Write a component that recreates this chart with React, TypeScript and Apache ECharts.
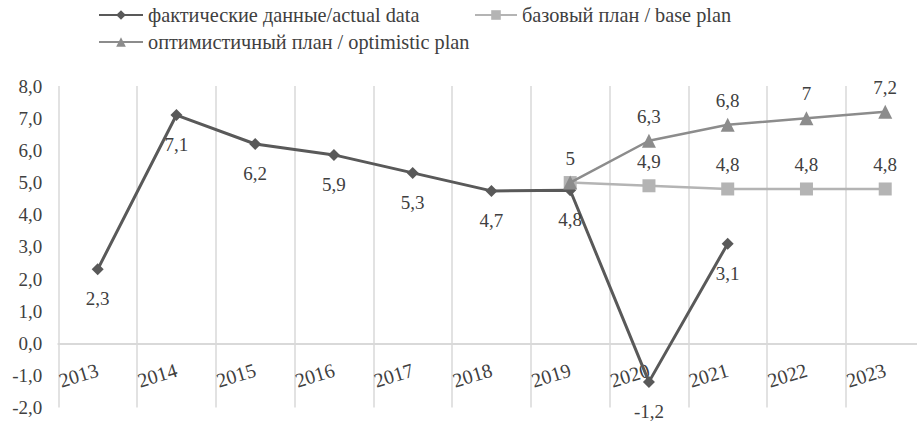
import React, { useEffect, useRef } from "react";
import * as echarts from "echarts";

const years = ["2013", "2014", "2015", "2016", "2017", "2018", "2019", "2020", "2021", "2022", "2023"];
const actualData = [2.3, 7.1, 6.2, 5.86, 5.3, 4.74, 4.76, -1.2, 3.1, null, null];
const basePlan = [null, null, null, null, null, null, 5, 4.9, 4.8, 4.8, 4.8];
const optimisticPlan = [null, null, null, null, null, null, 5, 6.3, 6.8, 7, 7.2];

const actualName = "фактические данные/actual data";
const baseName = "базовый план / base plan";
const optName = "оптимистичный план / optimistic plan";

const FONT = "Liberation Serif";
const TEXT = "#404040";
const FS = 19;
const LFS = 20.3;

const fmtVal = (v: number) => String(Math.round(v * 10) / 10).replace(".", ",");

export default function App() {
  const ref = useRef<HTMLDivElement>(null);
  useEffect(() => {
    if (!ref.current) return;
    const chart = echarts.init(ref.current, undefined, { renderer: "svg" });
    const legendText = { fontFamily: FONT, fontSize: LFS, color: TEXT };
    const legendBase = { itemHeight: 12, itemGap: 0, padding: 0, textStyle: legendText, selectedMode: false };
    chart.setOption({
      animation: false,
      textStyle: { fontFamily: FONT, color: TEXT },
      legend: [
        { ...legendBase, data: [actualName], left: 98, top: 5, itemWidth: 44 },
        { ...legendBase, data: [baseName], left: 474, top: 5, itemWidth: 42 },
        { ...legendBase, data: [optName], left: 98, top: 32, itemWidth: 44 },
      ],
      grid: [
        { left: 58.3, right: 35.4, top: 86.1, bottom: 14.4, containLabel: false, outerBoundsMode: "none" },
        { left: 58.3, right: 35.4, top: 86.1, bottom: 422 - 343.3, containLabel: false, outerBoundsMode: "none" },
      ],
      xAxis: [
        {
          type: "category",
          gridIndex: 0,
          data: years,
          boundaryGap: true,
          axisLine: { show: true, onZero: true, lineStyle: { color: "#d9d9d9", width: 2 } },
          axisTick: { show: false },
          splitLine: { show: true, interval: 0, lineStyle: { color: "#d9d9d9", width: 1.5 } },
          axisLabel: { show: false },
        },
        {
          type: "category",
          gridIndex: 1,
          data: years,
          boundaryGap: true,
          axisLine: { show: false },
          axisTick: { show: false },
          splitLine: { show: false },
          axisLabel: { interval: 0, rotate: 17, margin: 26, fontFamily: FONT, fontSize: 20, color: TEXT },
        },
      ],
      yAxis: [
        {
          type: "value",
          gridIndex: 0,
          min: -2,
          max: 8,
          interval: 1,
          axisLine: { show: false },
          axisTick: { show: false },
          splitLine: { show: false },
          axisLabel: {
            margin: 16,
            fontFamily: FONT,
            fontSize: FS,
            color: TEXT,
            formatter: (v: number) => v.toFixed(1).replace(".", ","),
          },
        },
        {
          type: "value",
          gridIndex: 1,
          min: 0,
          max: 1,
          show: false,
        },
      ],
      series: [
        {
          name: actualName,
          type: "line",
          data: actualData,
          symbol: "diamond",
          symbolSize: 12,
          lineStyle: { color: "#595959", width: 3 },
          itemStyle: { color: "#595959" },
          label: {
            show: true,
            position: "bottom",
            distance: 14,
            fontFamily: FONT,
            fontSize: FS,
            color: TEXT,
            formatter: (p: any) => fmtVal(p.value),
          },
          z: 2,
        },
        {
          name: baseName,
          type: "line",
          data: basePlan,
          symbol: "rect",
          symbolSize: 13,
          lineStyle: { color: "#b4b4b4", width: 2.5 },
          itemStyle: { color: "#b4b4b4" },
          label: {
            show: true,
            position: "top",
            distance: 8,
            fontFamily: FONT,
            fontSize: FS,
            color: TEXT,
            formatter: (p: any) => fmtVal(p.value),
          },
          z: 3,
        },
        {
          name: optName,
          type: "line",
          data: optimisticPlan.map((v, i) => (i === 6 ? { value: v, label: { show: false } } : v)),
          symbol: "triangle",
          symbolSize: 14,
          lineStyle: { color: "#8c8c8c", width: 2.5 },
          itemStyle: { color: "#8c8c8c" },
          label: {
            show: true,
            position: "top",
            distance: 8,
            fontFamily: FONT,
            fontSize: FS,
            color: TEXT,
            formatter: (p: any) => fmtVal(p.value),
          },
          z: 4,
        },
      ],
    });
    return () => chart.dispose();
  }, []);
  return (
    <div style={{ position: "absolute", left: 0, top: 0, width: 917, height: 422, overflow: "hidden", background: "#fff" }}>
      <div ref={ref} style={{ width: 960, height: 422 }} />
    </div>
  );
}
